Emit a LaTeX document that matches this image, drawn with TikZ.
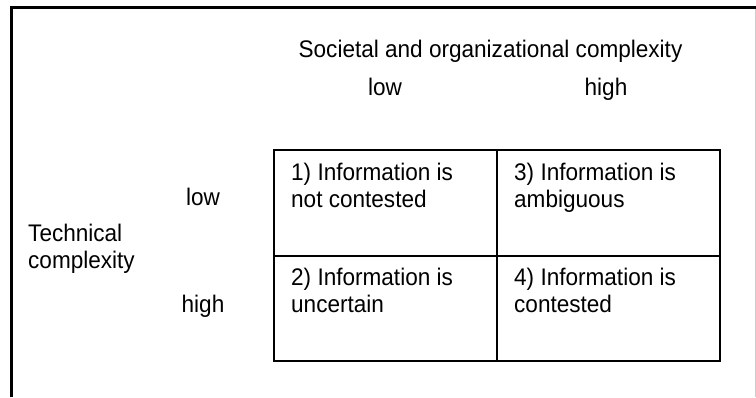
\documentclass[tikz,border=0pt]{standalone}
\usepackage{fontspec}
\setmainfont{Liberation Sans}[FakeStretch=0.94]
\usetikzlibrary{positioning}

\begin{document}
\begin{tikzpicture}[
		  x=1pt, y=-1pt, font=\fontsize{24}{27}\selectfont,
		  cell/.style={draw, line width=2pt, outer sep=0pt, minimum width=223pt, minimum height=105.5pt, inner sep=0pt},
		  celltext/.style={anchor=base west, align=left, inner sep=0pt, xshift=17pt, yshift=-57pt},
		  lbl/.style={anchor=base, inner sep=0pt}
		]
		\useasboundingbox (0,0) rectangle (756,397);
		% outer frame
		\draw[line width=3pt] (11,397) -- (11,7.5) -- (756,7.5);
		\draw[line width=1pt, black!20] (755,9) -- (755,397);
		
		\node[lbl] (soc) at (490.5,57) {Societal and organizational complexity};
		\node[lbl] (soc_low) at (385,95) {low};
		\node[lbl] (soc_high) at (606,95) {high};
		\node[anchor=base west, align=left, inner sep=0pt] (tech) at (28,268) {Technical\\complexity};
		\node[lbl] (tech_low) at (203,205) {low};
		\node[lbl] (tech_high) at (203,312) {high};
		
		\node[cell, anchor=north west] (c1) at (274,150) {};
		\node[cell, right=0pt of c1] (c3) {};
		\node[cell, below=0pt of c1] (c2) {};
		\node[cell, right=0pt of c2] (c4) {};
		
		\node[celltext] (c1_txt) at (c1.north west) {1) Information is\\not contested};
		\node[celltext] (c3_txt) at (c3.north west) {3) Information is\\ambiguous};
		\node[celltext] (c2_txt) at (c2.north west) {2) Information is\\uncertain};
		\node[celltext] (c4_txt) at (c4.north west) {4) Information is\\contested};
		\end{tikzpicture}
\end{document}
